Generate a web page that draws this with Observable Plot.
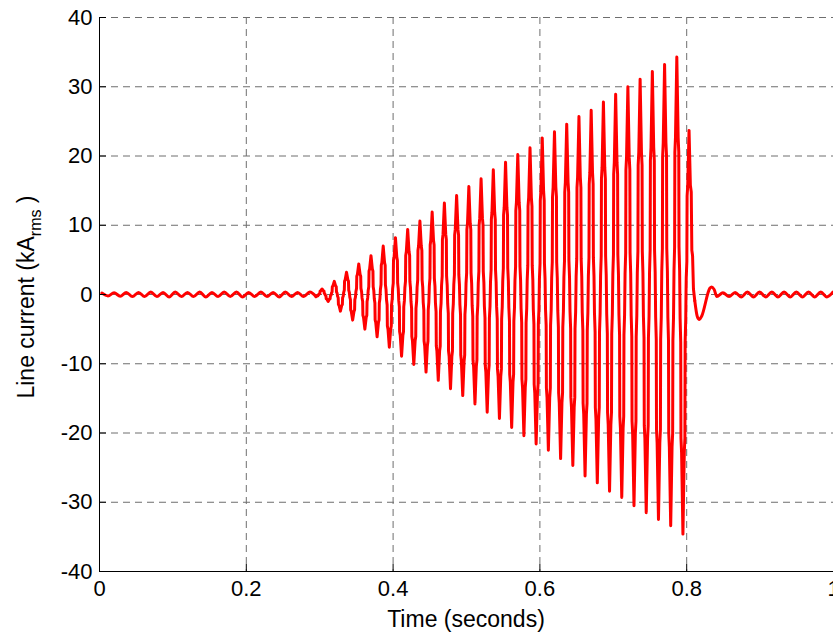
<!DOCTYPE html>
<html><head><meta charset="utf-8">
<script src="https://cdn.jsdelivr.net/npm/d3@7"></script>
<script src="https://cdn.jsdelivr.net/npm/@observablehq/plot@0.6"></script>
<style>
html,body{margin:0;padding:0;background:#fff;overflow:hidden;width:833px;height:632px}
#chart{position:relative;width:833px;height:632px;overflow:hidden}
#chart svg{max-width:none !important;}
</style></head><body><div id="chart"></div>
<script>
// ---- axes / ticks ----
const xTicks = [0, 0.2, 0.4, 0.6, 0.8, 1];
const xTickLabels = ["0", "0.2", "0.4", "0.6", "0.8", "1"];
const yTicks = [-40, -30, -20, -10, 0, 10, 20, 30, 40];
const xTitle = "Time (seconds)";
const yTitleMain = "Line current (kA";
const yTitleSub = "rms";
const yTitleEnd = " )";

// ---- waveform readings (kA) ----
const lineHz = 60;            // cycles counted on the plot
const firstPeakS = 0.0032;    // time of the first ripple crest
// pre-fault ripple crests / troughs (0 .. 0.3 s)
const prePos = [0.2, 0.25, 0.3, 0.3, 0.35, 0.3, 0.35, 0.3, 0.35, 0.3, 0.35, 0.35, 0.3, 0.35, 0.3, 0.35, 0.3, 0.35];
const preNeg = [-0.2, -0.25, -0.3, -0.3, -0.3, -0.35, -0.3, -0.3, -0.35, -0.3, -0.3, -0.35, -0.3, -0.3, -0.35, -0.3, -0.3, -0.3];
// growing oscillation crests / troughs (0.30 .. 0.80 s)
const faultPos = [0.8, 1.9, 3.2, 4.4, 5.6, 7.0, 8.2, 9.4, 10.6, 11.9, 13.2, 14.3, 15.6, 16.7, 18.0, 19.1, 20.2, 21.2, 22.6, 23.5, 24.6, 25.7, 26.6, 27.8, 28.9, 30.0, 31.1, 32.2, 33.2, 34.3];
const faultNeg = [-1.0, -2.4, -3.7, -5.0, -6.1, -7.6, -8.9, -10.1, -11.2, -12.4, -13.6, -14.6, -15.8, -17.0, -17.9, -19.2, -20.4, -21.6, -22.5, -23.7, -24.7, -26.2, -27.2, -28.4, -29.3, -30.5, -31.5, -32.5, -33.4, -34.6];
const lastPeak = 23.7;
// clearing transient after the last crest
const tailT = [0.8050, 0.8062, 0.8070, 0.8080, 0.8092, 0.8110, 0.8145, 0.8173, 0.8205, 0.8315, 0.8342, 0.8375];
const tailV = [15.8, 14.8, 6.4, 5.6, 0.8, -0.9, -3.2, -3.6, -3.1, 0.9, 1.1, 0.7];
// post-fault ripple (troughs then crests)
const postStartS = 0.841;
const postNeg = [-0.3, -0.3, -0.35, -0.35, -0.35, -0.35, -0.35, -0.35, -0.35, -0.35];
const postPos = [0.25, 0.3, 0.35, 0.35, 0.35, 0.35, 0.35, 0.35, 0.35, 0.35];
// stepped edge of one half cycle (fraction of half period, fraction of the extreme left behind)
const edgeShape = [[0.22, 0.66], [0.32, 0.6], [0.36, 0.2], [0.46, 0.1], [0.5, 0]];

// ---- build the series (three pieces that share their end points) ----
const T = 1 / lineHz, H = T / 2;
const prePts = [];
for (let k = 0; k < prePos.length; k++) {
  prePts.push({t: firstPeakS + k * T, v: prePos[k]});
  prePts.push({t: firstPeakS + k * T + H, v: preNeg[k]});
}
const extremes = [];
for (let j = 0; j < faultPos.length; j++) {
  const tp = firstPeakS + (prePos.length + j) * T;
  extremes.push({t: tp, v: faultPos[j]});
  extremes.push({t: tp + H, v: faultNeg[j]});
}
extremes.push({t: firstPeakS + (prePos.length + faultPos.length) * T, v: lastPeak});
let prev = prePts[prePts.length - 1];
const faultPts = [prev];
for (const e of extremes) {
  const dt = e.t - prev.t;
  for (const [f, a] of edgeShape) faultPts.push({t: prev.t + f * dt, v: prev.v * a});
  for (let i = edgeShape.length - 2; i >= 0; i--) {
    const [f, a] = edgeShape[i];
    faultPts.push({t: e.t - f * dt, v: e.v * a});
  }
  faultPts.push(e);
  prev = e;
}
const tailPts = [];
tailT.forEach((t, i) => tailPts.push({t, v: tailV[i]}));
faultPts.push(...tailPts.slice(0, 6));
const postPts = tailPts.slice(5);
for (let n = 0; n < postNeg.length; n++) {
  postPts.push({t: postStartS + n * T, v: postNeg[n]});
  postPts.push({t: postStartS + n * T + H, v: postPos[n]});
}

const FONT = "'Liberation Sans', Arial, sans-serif";
const W = 870, Hh = 632, mL = 99, mR = 37, mT = 17, mB = 61;
const gridStyle = {stroke: "#6e6e6e", strokeOpacity: 1, strokeWidth: 1, strokeDasharray: "7,5"};
const lineStyle = {x: "t", y: "v", stroke: "#ff0000", strokeWidth: 3, strokeLinejoin: "round"};
const chart = Plot.plot({
  width: W, height: Hh,
  marginLeft: mL, marginRight: mR, marginTop: mT, marginBottom: mB,
  style: {fontFamily: FONT, fontSize: "22px", color: "#000", background: "#fff", maxWidth: "none"},
  x: {domain: [0, 1]},
  y: {domain: [-40, 40]},
  marks: [
    Plot.gridX(xTicks, gridStyle),
    Plot.gridY(yTicks, gridStyle),
    Plot.line(prePts, {...lineStyle, curve: "monotone-x"}),
    Plot.line(faultPts, {...lineStyle, curve: "linear"}),
    Plot.line(postPts, {...lineStyle, curve: "monotone-x"}),
    Plot.ruleX([0], {stroke: "#000", strokeWidth: 1}),
    Plot.ruleY([-40], {stroke: "#000", strokeWidth: 1}),
    Plot.ruleY(yTicks, {stroke: "#000", insetRight: W - mL - mR - 7}),
    Plot.ruleX(xTicks, {stroke: "#000", insetTop: Hh - mT - mB - 7}),
    Plot.axisY(yTicks, {tickSize: 0, tickPadding: 7, tickFormat: d => String(d), label: null, fontSize: 22}),
    Plot.axisX(xTicks, {tickSize: 0, tickPadding: 9, tickFormat: d => xTickLabels[xTicks.indexOf(d)], label: null, fontSize: 22})
  ]
});
chart.style.maxWidth = "none";
document.getElementById("chart").appendChild(chart);

const svg = d3.select(chart);
const cx = (mL + (W - mR)) / 2;
svg.append("text")
  .attr("x", cx).attr("y", Hh - 5)
  .attr("text-anchor", "middle")
  .attr("font-size", 23)
  .attr("font-family", FONT)
  .text(xTitle);
const yl = svg.append("text")
  .attr("transform", `translate(34,${(mT + Hh - mB) / 2 + 3}) rotate(-90)`)
  .attr("text-anchor", "middle")
  .attr("font-size", 23)
  .attr("font-family", FONT);
yl.append("tspan").text(yTitleMain);
yl.append("tspan").attr("font-size", 16).attr("dy", 7).text(yTitleSub);
yl.append("tspan").attr("dy", -7).text(yTitleEnd);
</script></body></html>
